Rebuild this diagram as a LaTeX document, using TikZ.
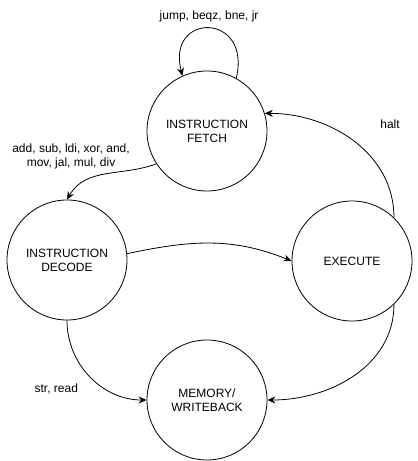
\documentclass[tikz,border=0pt]{standalone}
\usepackage{fontspec}
\setmainfont{Liberation Sans}
\usetikzlibrary{arrows.meta,positioning}

\begin{document}
\begin{tikzpicture}[x=1pt, y=1pt, line width=0.8pt,
    stage/.style={circle, draw=black, minimum size=120pt, inner sep=0pt, align=center},
    >={Stealth[length=8pt, width=7pt]},
    font=\fontsize{12}{14}\selectfont]
    \useasboundingbox (0,0) rectangle (418,461);
    \node[stage] (fetch) at (207,330) {INSTRUCTION\\FETCH};
    \node[stage] (decode) at (67,201) {INSTRUCTION\\DECODE};
    \node[stage] (execute) at (352,200) {EXECUTE};
    \node[stage] (memory) at (207,61) {MEMORY/\\WRITEBACK};
    \draw[->] 
      (fetch.61) .. controls (252,449) and (166,449) .. node[above=3pt] {jump, beqz, bne, jr} (fetch.114);
    \draw[->] (fetch.213) to[out=200, in=60] node[above left=2pt and -28pt, align=center] {add, sub, ldi, xor, and,\\mov, jal, mul, div} (decode.90);
    \draw[->] (decode.6) to[out=12, in=158] (execute.180);
    \draw[->] (decode.270) to[out=-90, in=180] node[pos=0.66, left=24pt] {str, read} (memory.180);
    \draw[->] (execute.-46) to[out=-90, in=0] (memory.0);
    \draw[->] (execute.46) to[out=90, in=0] node[pos=0.45, above right=14pt and 16pt] {halt} (fetch.17);
  \end{tikzpicture}
\end{document}
